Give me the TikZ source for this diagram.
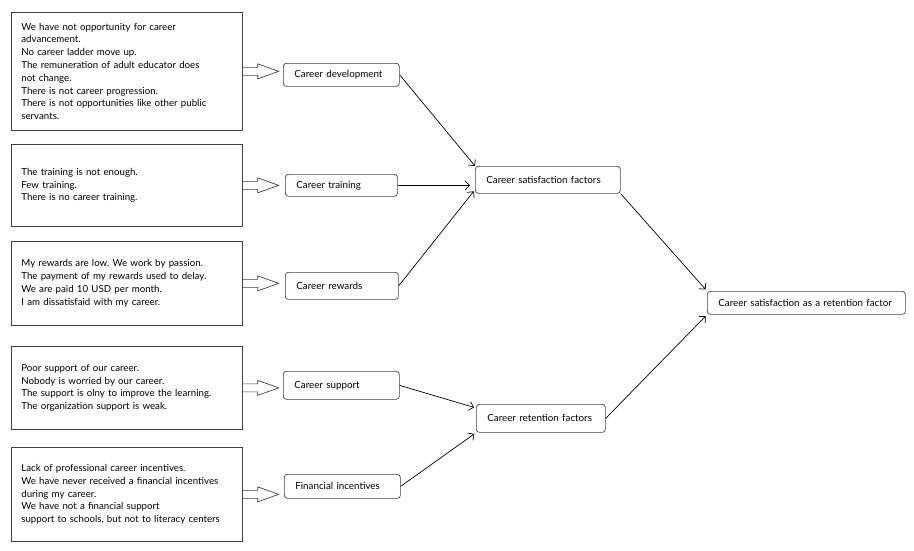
\documentclass[tikz,border=0pt]{standalone}
\usepackage{fontspec}
\setmainfont{Lato}
\frenchspacing
\usetikzlibrary{calc,arrows.meta}
\tikzset{
  lbox/.style={draw=black!75, line width=0.7pt, anchor=north west, minimum width=231, text width=211, inner xsep=10, inner ysep=0, align=left, font=\fontsize{9.7}{12.8}\selectfont},
  mbox/.style={draw=black!75, line width=0.7pt, rounded corners=3pt, anchor=north west, inner xsep=11, inner ysep=0, align=left, font=\fontsize{9.8}{12}\selectfont},
  conn/.style={line width=0.7pt, -{Straight Barb[length=4.5pt,width=9pt]}},
  hol/.style={draw=black!75, line width=0.7pt, line join=miter},
}
\newcommand\hollowarr[1]{%
  \draw[hol] ($(#1.east)+(0,-4)$) -- ++(15,0) -- ++(0,-3.5) -- ($(#1.east)+(36,0)$)
    -- ($(#1.east)+(15,7.5)$) -- ++(0,-3.5) -- ($(#1.east)+(0,4)$);}
\begin{document}
\begin{tikzpicture}[x=1pt,y=-1pt]
\useasboundingbox[fill=white] (0,0) rectangle (914,550);
% left boxes
\node[lbox, minimum height=118] (b1) at (11,12) {We have not opportunity for career\\advancement.\\No career ladder move up.\\The remuneration of adult educator does\\not change.\\There is not career progression.\\There is not opportunities like other public\\servants.};
\node[lbox, minimum height=82] (b2) at (11,144) {The training is not enough.\\Few training.\\There is no career training.};
\node[lbox, minimum height=84] (b3) at (11,241) {My rewards are low. We work by passion.\\The payment of my rewards used to delay.\\We are paid 10 USD per month.\\I am dissatisfaid with my career.};
\node[lbox, minimum height=83] (b4) at (11,346) {Poor support of our career.\\Nobody is worried by our career.\\The support is olny to improve the learning.\\The organization support is weak.};
\node[lbox, minimum height=94] (b5) at (11,447) {Lack of professional career incentives.\\We have never received a financial incentives\\during my career.\\We have not a financial support\\support to schools, but not to literacy centers};
% middle boxes
\node[mbox, text width=94, minimum height=23] (dev) at (283,63) {Career development};
\node[mbox, text width=90, minimum height=22] (tra) at (285,174) {Career training};
\node[mbox, text width=91, minimum height=27] (rew) at (285,272) {Career rewards};
\node[mbox, text width=94, minimum height=28] (sup) at (283,371) {Career support};
\node[mbox, text width=94, minimum height=24] (fin) at (284,474) {Financial incentives};
\node[mbox, text width=123, minimum height=27] (sat) at (475,166) {Career satisfaction factors};
\node[mbox, text width=107, minimum height=28] (ret) at (476,404) {Career retention factors};
\node[mbox, text width=176, minimum height=23] (fac) at (707,291) {Career satisfaction as a retention factor};
% hollow arrows
\hollowarr{b1}
\hollowarr{b2}
\hollowarr{b3}
\hollowarr{b4}
\hollowarr{b5}
% connectors
\draw[conn] (dev.east) -- (sat.north west);
\draw[conn, shorten >=5pt] (tra.east) -- (sat.west |- tra.east);
\draw[conn, shorten >=2pt] (rew.east) -- ($(sat.south west)+(0,-4)$);
\draw[conn, shorten >=2pt] (sup.east) -- ($(ret.north west)+(0,4)$);
\draw[conn, shorten >=2pt] (fin.east) -- (ret.south west);
\draw[conn, shorten >=2pt] (sat.south east) -- (fac.north west);
\draw[conn, shorten >=2pt] (ret.east) -- (fac.south west);
\end{tikzpicture}
\end{document}
